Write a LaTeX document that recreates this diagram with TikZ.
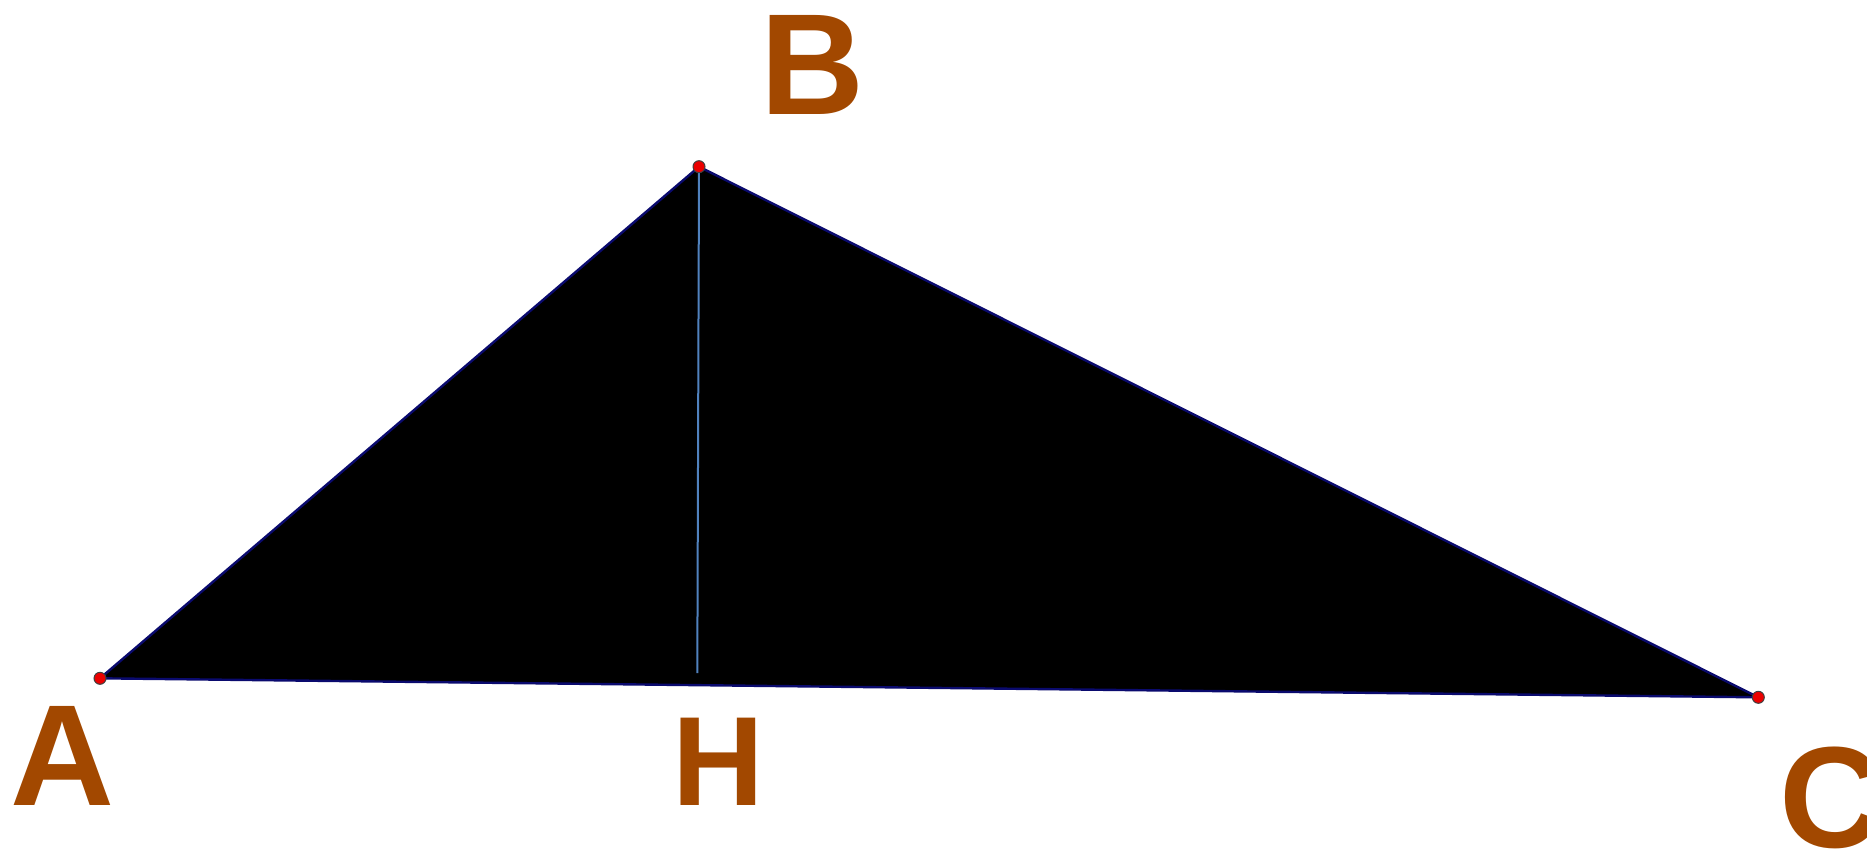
\documentclass[tikz,border=0pt]{standalone}
\usepackage{fontspec}
\setmainfont{Liberation Sans}
\definecolor{lbl}{RGB}{162,72,0}
\definecolor{edge}{RGB}{10,10,110}
\definecolor{alt}{RGB}{80,130,190}
\definecolor{pt}{RGB}{235,0,0}
\begin{document}
\begin{tikzpicture}[x=1pt,y=-1pt,
  vlabel/.style={text=lbl,font=\bfseries\fontsize{144}{144}\selectfont,inner sep=0pt,anchor=base west},
  vpoint/.style={circle,fill=pt,draw=black!75,line width=1pt,minimum size=12pt,inner sep=0pt}]
\clip (0,0) rectangle (1867,853);
\fill[white] (0,0) rectangle (1867,853);
\coordinate (A) at (100,678.3);
\coordinate (B) at (699,166.7);
\coordinate (C) at (1758.3,697.3);
\coordinate (F) at (697.3,673);
\filldraw[fill=black,draw=edge,line width=2.4pt,line join=round] (A) -- (B) -- (C) -- cycle;
\draw[alt,line width=2pt] (B) -- (F);
\node[vpoint] (pA) at (A) {};
\node[vpoint] (pB) at (B) {};
\node[vpoint] (pC) at (C) {};
\node[vlabel] (lA) at (10,805) {A};
\node[vlabel] (lB) at (760,115) {B};
\node[vlabel,font=\bfseries\fontsize{127}{127}\selectfont] (lH) at (672,805) {H};
\node[vlabel] (lC) at (1779,847) {C};
\end{tikzpicture}
\end{document}
